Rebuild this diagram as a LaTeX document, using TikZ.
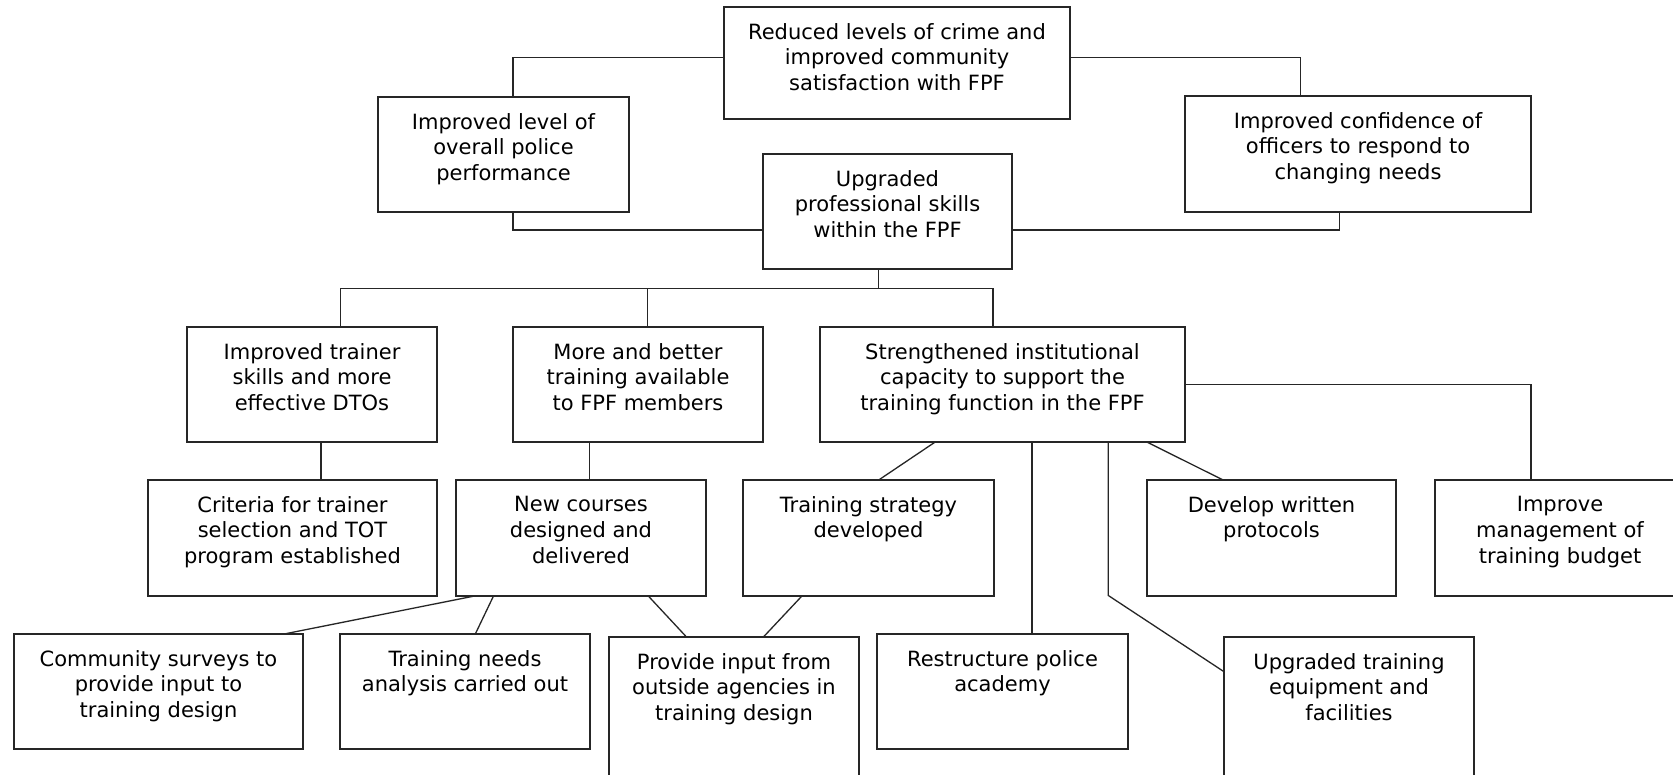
\documentclass[tikz,border=0pt]{standalone}
\usepackage{fontspec}
\setmainfont{DejaVu Sans}
\usetikzlibrary{calc}
\tikzset{
  box/.style={draw=black!85, line width=1.3pt, rectangle, inner sep=0pt, outer sep=0pt},
  txt/.style={align=center, inner sep=0pt, font=\fontsize{21}{25.8}\selectfont, anchor=north},
  link/.style={draw=black!85, line width=1.3pt},
}
\newcommand\mybox[6]{%
  \node[box, minimum width={(#4-#2)*1pt}, minimum height={(#5-#3)*1pt}] (#1) at ({(#2+#4)/2},{(#3+#5)/2}) {};
  \node[txt] (#1-t) at ([yshift=-16pt]#1.north) {#6};
}
\begin{document}
\begin{tikzpicture}[x=1pt,y=-1pt]
\useasboundingbox (0,0) rectangle (1673,775);
\clip (0,0) rectangle (1673,775);
\fill[white] (0,0) rectangle (1673,775);
\mybox{goal}{724}{7}{1070}{119}{Reduced levels of crime and\\improved community\\satisfaction with FPF}
\mybox{perf}{378}{97}{629}{212}{Improved level of\\overall police\\performance}
\mybox{conf}{1185}{96}{1531}{212}{Improved confidence of\\officers to respond to\\changing needs}
\mybox{skills}{763}{154}{1012}{269}{Upgraded\\professional skills\\within the FPF}
\mybox{trainer}{187}{327}{437}{442}{Improved trainer\\skills and more\\effective DTOs}
\mybox{more}{513}{327}{763}{442}{More and better\\training available\\to FPF members}
\mybox{inst}{820}{327}{1185}{442}{Strengthened institutional\\capacity to support the\\training function in the FPF}
\mybox{criteria}{148}{480}{437}{596}{Criteria for trainer\\selection and TOT\\program established}
\mybox{courses}{456}{480}{706}{596}{New courses\\designed and\\delivered}
\mybox{strategy}{743}{480}{994}{596}{Training strategy\\developed}
\mybox{protocols}{1147}{480}{1396}{596}{Develop written\\protocols}
\mybox{budget}{1435}{480}{1685}{596}{Improve\\management of\\training budget}
\mybox{community}{14}{634}{303}{749}{Community surveys to\\provide input to\\training design}
\mybox{needs}{340}{634}{590}{749}{Training needs\\analysis carried out}
\mybox{outside}{609}{637}{859}{800}{Provide input from\\outside agencies in\\training design}
\mybox{academy}{877}{634}{1128}{749}{Restructure police\\academy}
\mybox{equipment}{1224}{637}{1474}{800}{Upgraded training\\equipment and\\facilities}
% top level
\draw[link] ([yshift=5.3pt]goal.west) -| ([xshift=9.4pt]perf.north);
\draw[link] ([yshift=5.3pt]goal.east) -| ([xshift=-57.5pt]conf.north);
\draw[link] ([xshift=9.4pt]perf.south) |- ([yshift=-18.5pt]skills.west);
\draw[link] ([xshift=-18.8pt]conf.south) |- ([yshift=-18.5pt]skills.east);
% bus
\coordinate (bus) at (878.5,288.3);
\coordinate (busL) at (340.3,288.3);
\coordinate (busR) at (992.9,288.3);
\draw[link] ([xshift=-9pt]skills.south) -- (bus);
\draw[link] (busL) -- (busR);
\draw[link] (busL) -- (trainer.north -| busL);
\draw[link] (busR) -- (inst.north -| busR);
\draw[link] ([xshift=9.4pt]more.north) -- ([xshift=9.4pt]more.north |- busL);
% second level
\draw[link] ([xshift=8.9pt]trainer.south) -- ([xshift=28.4pt]criteria.north);
\draw[link] ([xshift=-48.2pt]more.south) -- ([xshift=8.8pt]courses.north);
\draw[link] (inst.east) -| ([xshift=-29pt]budget.north);
\draw[link] ([xshift=-67.3pt]inst.south) -- ([xshift=10.2pt]strategy.north);
\draw[link] ([xshift=29.5pt]inst.south) -- ([xshift=29.5pt]academy.north);
\draw[link] ([xshift=105.8pt]inst.south) -- ++(0,153.5) -- ([yshift=-34.7pt]equipment.north west);
\draw[link] ([xshift=144.3pt]inst.south) -- ([xshift=-48.4pt]protocols.north);
% third level
\draw[link] ([xshift=-106.5pt]courses.south) -- ([xshift=125.6pt]community.north);
\draw[link] ([xshift=-87.5pt]courses.south) -- ([xshift=10.3pt]needs.north);
\draw[link] ([xshift=67.3pt]courses.south) -- ([xshift=-47.5pt]outside.north);
\draw[link] ([xshift=-66.6pt]strategy.south) -- ([xshift=29.4pt]outside.north);
\end{tikzpicture}
\end{document}
